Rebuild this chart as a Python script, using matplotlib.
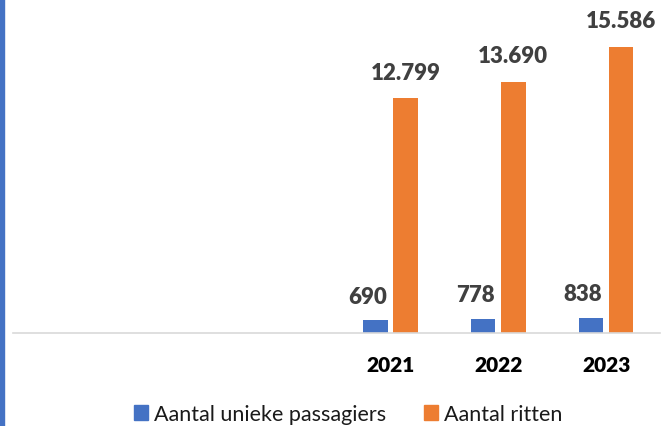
import matplotlib.pyplot as plt
from matplotlib.patches import Rectangle, Patch
import numpy as np

years = ["", "", "", "2021", "2022", "2023"]
passagiers = [np.nan, np.nan, np.nan, 690, 778, 838]
ritten = [np.nan, np.nan, np.nan, 12799, 13690, 15586]

BLUE = "#4472C4"
ORANGE = "#ED7D31"

plt.rcParams["font.family"] = ["Lato", "DejaVu Sans"]

fig = plt.figure(figsize=(6.67, 4.27), dpi=100)
ax = fig.add_axes([0.0195, 0.2178, 0.97, 0.7822])

x = np.arange(len(years))
w = 0.227
off = 0.14
ax.bar(x - off, passagiers, w, color=BLUE)
ax.bar(x + off, ritten, w, color=ORANGE)

def fmt(v):
    return f"{int(v):,}".replace(",", ".")

for xi, v in zip(x, passagiers):
    if np.isnan(v):
        continue
    ax.annotate(fmt(v), (xi - off, v), xytext=(-8, 24), textcoords="offset pixels",
                ha="center", va="center", fontsize=16, fontweight="heavy",
                color="#404040", annotation_clip=False)
for xi, v in zip(x, ritten):
    if np.isnan(v):
        continue
    ax.annotate(fmt(v), (xi + off, v), xytext=(0, 26), textcoords="offset pixels",
                ha="center", va="center", fontsize=16, fontweight="heavy",
                color="#404040", annotation_clip=False)

ax.set_xlim(-0.5, len(years) - 0.5)
ax.set_ylim(0, 18200)
ax.set_xticks(x)
ax.set_xticklabels(years, fontsize=15, fontweight="heavy", color="black")
ax.tick_params(axis="x", length=0, pad=16)
ax.set_yticks([])
for s in ["top", "right", "left"]:
    ax.spines[s].set_visible(False)
ax.spines["bottom"].set_color("#D9D9D9")
ax.spines["bottom"].set_linewidth(1.2)

# blue strip on the left edge
fig.patches.append(Rectangle((0, 0), 3.5 / 667, 1, transform=fig.transFigure,
                             color=BLUE, zorder=5))

handles = [Patch(color=BLUE, label="Aantal unieke passagiers"),
           Patch(color=ORANGE, label="Aantal ritten")]
fig.legend(handles=handles, loc="center", bbox_to_anchor=(0.522, 0.028), ncol=2,
           frameon=False, fontsize=15.5, handlelength=0.65, handleheight=0.65,
           handletextpad=0.25, columnspacing=1.8, labelcolor="#1a1a1a")

fig.savefig("out.png", dpi=100)
